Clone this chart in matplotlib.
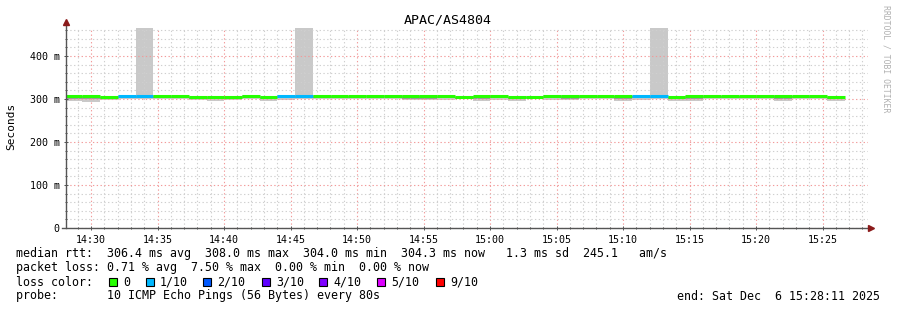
import matplotlib
matplotlib.use("Agg")
import matplotlib.pyplot as plt
import matplotlib.dates as mdates
from matplotlib.patches import Rectangle
import numpy as np
import pandas as pd

# 80 s smokeping steps
step_start = "2025-12-06 14:28:01"
step_len = "80s"

median_ms = [306.5, 306.5, 305.0, 308.0, 308.0, 307.5, 307.5, 305.5, 305.0, 305.5,
             307.0, 305.5, 306.0, 307.5, 307.5, 307.0, 306.0, 308.0, 308.0, 307.0,
             307.0, 306.5, 305.5, 306.0, 306.5, 305.5, 305.5, 306.5, 307.5, 307.5,
             307.0, 306.0, 306.0, 306.0, 305.5, 306.5, 307.5, 306.5, 306.5, 308.0,
             308.0, 306.5, 306.5, 304.5]
loss_count = [0, 0, 0, 1, 1, 0, 0, 0, 0, 0,
              0, 0, 1, 1, 0, 0, 0, 0, 0, 0,
              0, 0, 0, 0, 0, 0, 0, 0, 0, 0,
              0, 0, 1, 1, 0, 0, 0, 0, 0, 0,
              0, 0, 0, 0]
smoke_lo = [296, 294, 298, 300, 300, 301, 300, 297, 295, 298,
            300, 296, 298, 300, 301, 300, 299, 301, 301, 297,
            297, 298, 299, 296, 298, 295, 299, 298, 297, 300,
            300, 295, 298, 300, 296, 295, 300, 300, 300, 300,
            296, 299, 299, 296]
smoke_mid = [301, 299, 301, 303, 303, 303, 303, 300, 299, 301,
             303, 301, 302, 303, 303, 303, 302, 304, 304, 301,
             301, 302, 301, 300, 302, 300, 302, 302, 301, 303,
             303, 300, 302, 303, 300, 300, 303, 303, 303, 303,
             300, 302, 302, 299]
smoke_hi = [308, 308, 307, 310, 470, 309, 309, 307, 307, 307,
            309, 307, 308, 470, 309, 309, 308, 310, 310, 309,
            309, 308, 307, 308, 308, 307, 307, 308, 309, 309,
            309, 308, 308, 470, 307, 308, 309, 308, 308, 310,
            310, 308, 308, 306]

loss_labels = ["0", "1/10", "2/10", "3/10", "4/10", "5/10", "9/10"]
loss_colors = ["#26ff00", "#00b8ff", "#0059ff", "#5e00ff", "#7e00ff", "#dd00ff", "#ff0000"]

y_ticks = [0, 100, 200, 300, 400]
y_tick_labels = ["0", "100 m", "200 m", "300 m", "400 m"]

title = "APAC/AS4804"
stats_lines = [
    "median rtt:  306.4 ms avg  308.0 ms max  304.0 ms min  304.3 ms now   1.3 ms sd  245.1   am/s",
    "packet loss: 0.71 % avg  7.50 % max  0.00 % min  0.00 % now",
    "loss color:",
    "probe:       10 ICMP Echo Pings (56 Bytes) every 80s",
]
end_text = "end: Sat Dec  6 15:28:11 2025"

MONO = "DejaVu Sans Mono"
W, H = 897, 310

fig = plt.figure(figsize=(W / 100, H / 100), dpi=100)
fig.patch.set_facecolor("white")
ax = fig.add_axes([66 / W, 1 - 228 / H, (868 - 66) / W, 200 / H])

edges = pd.date_range(step_start, periods=len(median_ms) + 1, freq=step_len)
ex = mdates.date2num(edges.to_pydatetime())

# smoke
ax.stairs(smoke_hi, ex, baseline=smoke_lo, fill=True, color="#c9c9c9", lw=0, zorder=1)
ax.stairs(median_ms, ex, baseline=smoke_mid, fill=True, color="#9a9a9a", lw=0, zorder=1.5)
# median coloured by loss
ax.hlines(median_ms, ex[:-1], ex[1:], colors=[loss_colors[l] for l in loss_count],
          lw=2.2, zorder=3, capstyle="butt")

ax.set_ylim(0, 465.1)
ax.set_xlim(mdates.date2num(pd.Timestamp("2025-12-06 14:28:07")),
            mdates.date2num(pd.Timestamp("2025-12-06 15:28:25")))

ax.set_yticks(y_ticks)
ax.set_yticklabels(y_tick_labels)
ax.set_yticks(np.arange(0, 465, 20), minor=True)
ax.xaxis.set_major_locator(mdates.MinuteLocator(byminute=range(0, 60, 5)))
ax.xaxis.set_minor_locator(mdates.MinuteLocator())
ax.xaxis.set_major_formatter(mdates.DateFormatter("%H:%M"))

ax.grid(which="minor", color="#cfcfcf", lw=0.8, ls=(0, (1.2, 2.2)), zorder=2)
ax.grid(which="major", color="#f29a9a", lw=0.8, ls=(0, (1.2, 2.2)), zorder=2)
ax.set_axisbelow(False)

for s in ax.spines.values():
    s.set_visible(False)
ax.tick_params(which="both", direction="inout", color="#555555", width=0.72)
ax.tick_params(which="major", length=3)
ax.tick_params(which="minor", length=2)
ax.tick_params(axis="x", pad=3.5)
ax.tick_params(axis="y", pad=3)
for lab in ax.get_xticklabels() + ax.get_yticklabels():
    lab.set_fontfamily(MONO)
    lab.set_fontsize(7.2)

# axes with arrows
ax.plot([0, 0], [0, 1.03], transform=ax.transAxes, color="#555555", lw=1, clip_on=False, zorder=4)
ax.plot([-0.005, 1.004], [0, 0], transform=ax.transAxes, color="#555555", lw=1, clip_on=False, zorder=4)
ax.plot([0], [1.03], marker="^", ms=5, color="#8b1a1a", transform=ax.transAxes, clip_on=False, zorder=5)
ax.plot([1.004], [0], marker=">", ms=5, color="#8b1a1a", transform=ax.transAxes, clip_on=False, zorder=5)

fig.text(0.4994, 1 - 20 / H, title, ha="center", va="center", family=MONO, fontsize=9.6)
fig.text(11 / W, 1 - 126 / H, "Seconds", rotation=90, ha="center", va="center",
         family=MONO, fontsize=8)
fig.text(886 / W, 1 - 5 / H, "RRDTOOL / TOBI OETIKER", rotation=-90, ha="center", va="top",
         family=MONO, fontsize=5.9, color="#b0b0b0")

line_y = [254, 268, 282, 296]
for y, txt in zip(line_y, stats_lines):
    fig.text(16 / W, 1 - y / H, txt, ha="left", va="center", family=MONO, fontsize=8.4)

box_x = [109, 146, 203, 262, 319, 377, 436]
for bx, lab, col in zip(box_x, loss_labels, loss_colors):
    fig.patches.append(Rectangle((bx / W, 1 - 286 / H), 8 / W, 8 / H, transform=fig.transFigure,
                                 facecolor=col, edgecolor="black", lw=0.8))
    fig.text((bx + 14) / W, 1 - 282 / H, lab, ha="left", va="center", family=MONO, fontsize=8.4)

fig.text(880 / W, 1 - 296 / H, end_text, ha="right", va="center", family=MONO, fontsize=8.4)

fig.savefig("out.png", dpi=100)
